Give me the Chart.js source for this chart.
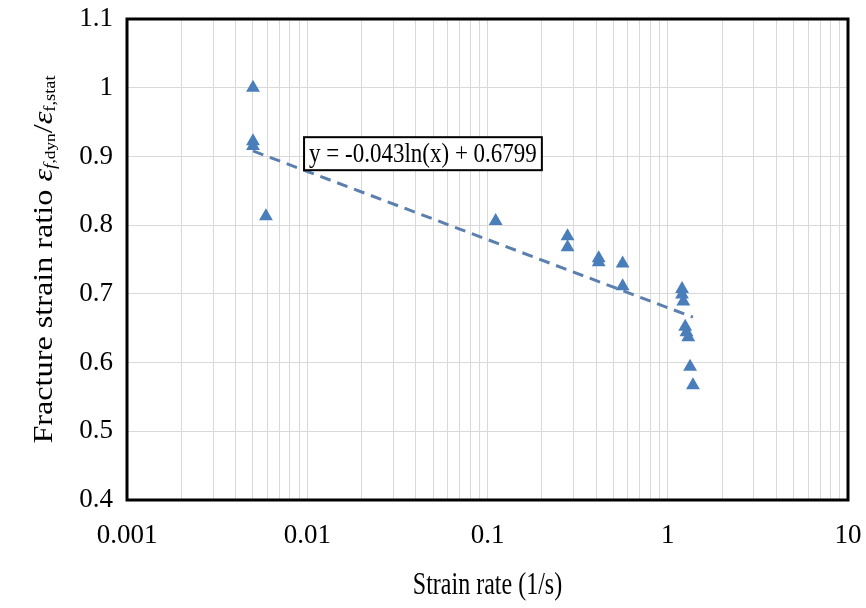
<!DOCTYPE html>
<html>
<head>
<meta charset="utf-8">
<script src="https://cdn.jsdelivr.net/npm/chart.js@4/dist/chart.umd.min.js"></script>
<style>
  html, body { margin: 0; padding: 0; background: #fff; }
  #wrap { width: 866px; height: 608px; position: relative; }
</style>
</head>
<body>
<div id="wrap"><canvas id="c"></canvas></div>
<script>
// Fracture strain ratio vs strain rate, log x axis, with log trendline.
const strainRate = [0.005, 0.005, 0.005, 0.0059, 0.111, 0.278, 0.278, 0.414, 0.414, 0.562, 0.562,
                    1.2, 1.2, 1.22, 1.25, 1.27, 1.3, 1.33, 1.38];
const ratio = [1.0, 0.922, 0.915, 0.813, 0.806, 0.784, 0.768, 0.752, 0.746, 0.744, 0.711,
               0.707, 0.699, 0.689, 0.652, 0.644, 0.637, 0.594, 0.567];
// trendline endpoints (straight on a log x axis)
const trendX = [0.005, 1.38];
const trendY = [0.908, 0.666];
const trendLabel = "y = -0.043ln(x) + 0.6799";
const trendLabelAt = { x: 0.0096, y: 0.928 };
const xDecades = [0.001, 0.01, 0.1, 1, 10];
const xTickLabels = ["0.001", "0.01", "0.1", "1", "10"];
const yTicks = [0.4, 0.5, 0.6, 0.7, 0.8, 0.9, 1, 1.1];

const SERIF = "'Liberation Serif', 'Times New Roman', serif";
const BLUE = "#4a7ebb";

const framePlugin = {
  id: "frame",
  afterDraw(chart) {
    const { ctx, chartArea: a, scales } = chart;
    ctx.save();
    // plot border
    ctx.strokeStyle = "#000";
    ctx.lineWidth = 3;
    ctx.strokeRect(a.left, a.top, a.right - a.left, a.bottom - a.top);

    // trendline equation box
    ctx.font = `23px ${SERIF}`;
    const tw = ctx.measureText(trendLabel).width;
    const bx = scales.x.getPixelForValue(trendLabelAt.x);
    const by = scales.y.getPixelForValue(trendLabelAt.y);
    const bw = tw + 10, bh = 33;
    ctx.fillStyle = "#fff";
    ctx.fillRect(bx, by, bw, bh);
    ctx.lineWidth = 2;
    ctx.strokeRect(bx, by, bw, bh);
    ctx.fillStyle = "#000";
    ctx.textBaseline = "middle";
    ctx.textAlign = "left";
    ctx.save();
    ctx.translate(bx + 5, by + bh / 2 + 1);
    ctx.scale(1, 1.15);
    ctx.fillText(trendLabel, 0, 0);
    ctx.restore();

    // x title (tall, narrow glyphs as in the reference)
    ctx.save();
    ctx.font = `24px ${SERIF}`;
    ctx.textAlign = "center";
    ctx.textBaseline = "alphabetic";
    ctx.translate((a.left + a.right) / 2, 594);
    ctx.scale(1, 1.35);
    ctx.fillText("Strain rate (1/s)", 0, 0);
    ctx.restore();

    // y title with subscripts
    const parts = [
      { t: "Fracture strain ratio ", f: `28px ${SERIF}`, dy: 0 },
      { t: "\u03B5", f: `italic 28px ${SERIF}`, dy: 0 },
      { t: "f", f: `italic 17px ${SERIF}`, dy: 6 },
      { t: ",dyn", f: `15px ${SERIF}`, dy: 6 },
      { t: "/", f: `28px ${SERIF}`, dy: 0 },
      { t: "\u03B5", f: `italic 28px ${SERIF}`, dy: 0 },
      { t: "f,stat", f: `16px ${SERIF}`, dy: 6 },
    ];
    let total = 0;
    parts.forEach((p) => { ctx.font = p.f; p.w = ctx.measureText(p.t).width; total += p.w; });
    ctx.translate(45, (a.top + a.bottom) / 2);
    ctx.rotate(-Math.PI / 2);
    ctx.scale(1.15, 1);
    ctx.textAlign = "left";
    let x = -total / 2;
    parts.forEach((p) => { ctx.font = p.f; ctx.fillText(p.t, x, p.dy); x += p.w; });
    ctx.restore();
  },
};

new Chart(document.getElementById("c"), {
  type: "scatter",
  data: {
    datasets: [
      {
        type: "line",
        data: trendX.map((x, i) => ({ x, y: trendY[i] })),
        borderColor: "#5b7fae",
        borderWidth: 3,
        borderDash: [11, 7],
        pointRadius: 0,
        fill: false,
        order: 2,
      },
      {
        data: strainRate.map((x, i) => ({ x, y: ratio[i] })),
        pointStyle: "triangle",
        pointRadius: 8,
        backgroundColor: BLUE,
        borderColor: BLUE,
        borderWidth: 0,
        order: 1,
      },
    ],
  },
  options: {
    responsive: true,
    maintainAspectRatio: false,
    animation: false,
    layout: { padding: { left: 0, right: 18, top: 19, bottom: 0 } },
    plugins: { legend: { display: false }, tooltip: { enabled: false } },
    scales: {
      x: {
        type: "logarithmic",
        min: 0.001,
        max: 10,
        afterBuildTicks(scale) {
          const ticks = [];
          xDecades.forEach((d, i) => {
            if (i === xDecades.length - 1) { ticks.push({ value: d }); return; }
            for (let m = 1; m <= 9; m++) ticks.push({ value: d * m });
          });
          scale.ticks = ticks;
        },
        afterFit(scale) { scale.height = 108; scale.paddingLeft = 0; scale.paddingRight = 0; },
        ticks: {
          autoSkip: false,
          maxRotation: 0,
          padding: 20,
          color: "#000",
          font: { family: SERIF, size: 27 },
          callback(v) {
            const i = xDecades.findIndex((d) => Math.abs(d - v) / d < 1e-6);
            return i >= 0 ? xTickLabels[i] : "";
          },
        },
        grid: { color: "#d9d9d9", lineWidth: 1, drawTicks: false },
        border: { display: false },
      },
      y: {
        min: 0.4,
        max: 1.1,
        afterBuildTicks(scale) { scale.ticks = yTicks.map((v) => ({ value: v })); },
        afterFit(scale) { scale.width = 127; scale.paddingTop = 0; scale.paddingBottom = 0; },
        ticks: {
          padding: 14,
          color: "#000",
          font: { family: SERIF, size: 27 },
          callback: (v) => String(Math.round(v * 10) / 10),
        },
        grid: { color: "#d9d9d9", lineWidth: 1, drawTicks: false },
        border: { display: false },
      },
    },
  },
  plugins: [framePlugin],
});
</script>
</body>
</html>
